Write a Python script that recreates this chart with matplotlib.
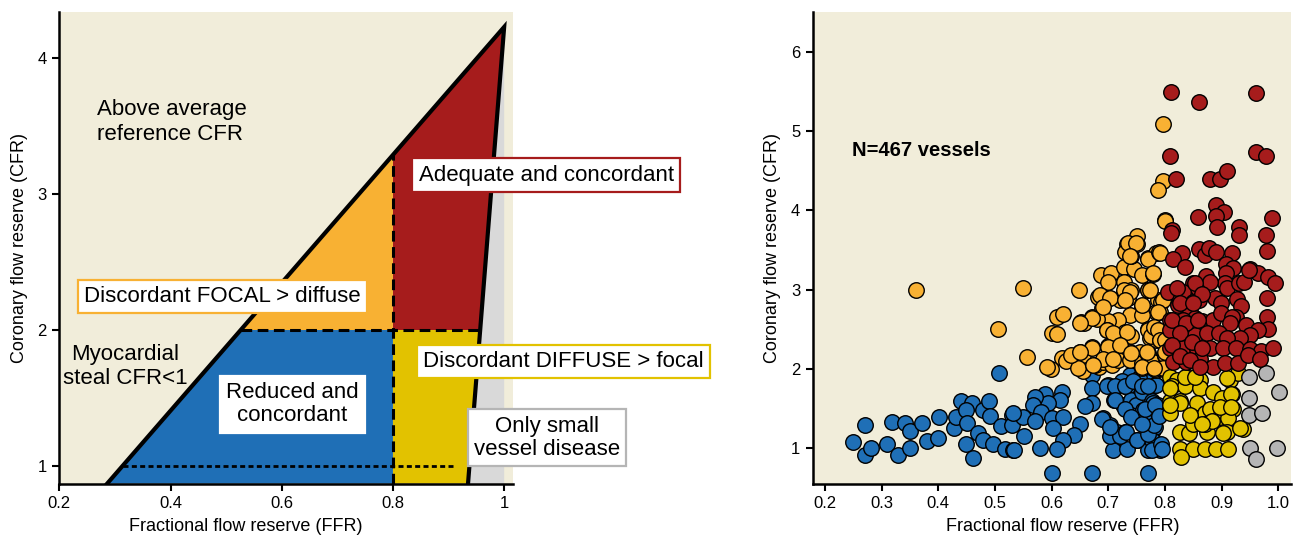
import numpy as np
import matplotlib.pyplot as plt
from matplotlib.patches import Polygon

plt.rcParams['font.family'] = ['Liberation Sans', 'DejaVu Sans']
narrow = ['Liberation Sans Narrow', 'Liberation Sans', 'DejaVu Sans']

# colours
beige = '#f1edda'
c_blue = '#1f6fb6'
c_orange = '#f8b133'
c_red = '#a61c1c'
c_yellow = '#e2c200'
c_grey = '#b5b5b5'
c_grey_zone = '#d9d9d9'

# ---- left panel: schematic corners (FFR, CFR) ----
diag_start = (0.286, 0.87)     # lower end of the reference line
apex = (1.0, 4.23)             # top of reference line
right_foot = (0.935, 0.87)     # lower end of the small vessel line
ffr_cut = 0.8
cfr_cut = 2.0
steal_cfr = 1.0
steal_end = 0.91

# ---- right panel: vessels ----
blue_ffr = [0.271, 0.250, 0.271, 0.281, 0.309, 0.319, 0.342, 0.350, 0.329, 0.350, 0.371, 0.381,
            0.400, 0.401, 0.428, 0.431, 0.441, 0.459, 0.449, 0.450, 0.449, 0.461, 0.471, 0.479,
            0.479, 0.490, 0.491, 0.497, 0.511, 0.518, 0.530, 0.530, 0.532, 0.508,
            0.671, 0.671, 0.671, 0.659, 0.618, 0.615, 0.588, 0.594, 0.571, 0.568, 0.582, 0.550,
            0.532, 0.571, 0.600, 0.621, 0.602, 0.650, 0.639, 0.621, 0.609, 0.579, 0.551, 0.534,
            0.600, 0.672, 0.771, 0.691, 0.703, 0.715, 0.729, 0.718, 0.709, 0.733, 0.750, 0.771,
            0.700, 0.715, 0.733, 0.711, 0.726, 0.741, 0.749, 0.741, 0.761, 0.759, 0.774, 0.779,
            0.738, 0.750, 0.768, 0.782, 0.759, 0.777, 0.788,
            0.785, 0.779, 0.788, 0.782, 0.777, 0.791, 0.777, 0.755, 0.725,
            0.703, 0.721, 0.731, 0.750, 0.771, 0.780, 0.794, 0.795, 0.689, 0.703,
            0.697, 0.712, 0.730, 0.744, 0.759, 0.771, 0.712, 0.730, 0.741, 0.759, 0.765, 0.783, 0.789]
blue_cfr = [1.29, 1.08, 0.92, 1.00, 1.06, 1.33, 1.32, 1.22, 0.91, 1.00, 1.32, 1.09,
            1.13, 1.39, 1.25, 1.39, 1.60, 1.57, 1.48, 1.32, 1.06, 0.88, 1.19, 1.11,
            1.48, 1.60, 1.41, 1.05, 1.28, 0.99, 1.42, 1.29, 0.98, 1.95,
            1.92, 1.76, 1.57, 1.53, 1.71, 1.61, 1.69, 1.57, 1.65, 1.55, 1.46, 1.40,
            1.44, 1.35, 1.38, 1.39, 1.25, 1.30, 1.17, 1.10, 0.99, 1.00, 1.15, 0.98,
            0.69, 0.69, 0.69, 1.38, 1.29, 1.21, 1.21, 1.13, 0.98, 0.99, 1.10, 0.98,
            1.80, 1.79, 1.77, 1.61, 1.54, 1.61, 1.55, 1.42, 1.48, 1.34, 1.34, 1.23,
            1.92, 1.86, 1.84, 1.80, 1.71, 1.59, 1.55,
            1.80, 1.57, 1.44, 1.27, 1.10, 0.98, 0.98, 1.88, 1.85,
            1.15, 1.15, 1.21, 1.10, 1.18, 1.29, 1.06, 0.99, 1.37, 1.27,
            1.78, 1.78, 1.78, 1.85, 1.78, 1.78, 1.61, 1.50, 1.40, 1.31, 1.50, 1.54, 1.41]

orange_ffr = [0.360, 0.505, 0.550, 0.556, 0.648, 0.609, 0.621, 0.601, 0.652, 0.671, 0.689, 0.682,
              0.701, 0.688, 0.705, 0.700, 0.728, 0.728, 0.728, 0.741, 0.721, 0.735, 0.746, 0.740,
              0.734, 0.750, 0.750, 0.729, 0.760, 0.771, 0.785, 0.779, 0.770, 0.788, 0.759, 0.785,
              0.738, 0.718, 0.700, 0.698, 0.729, 0.741, 0.759, 0.770, 0.785, 0.774, 0.785, 0.671,
              0.650, 0.618, 0.700, 0.721, 0.738, 0.756, 0.770,
              0.599, 0.625, 0.610, 0.657, 0.681, 0.656, 0.656, 0.683,
              0.592, 0.647, 0.635, 0.677, 0.691, 0.706, 0.718, 0.738, 0.759, 0.759, 0.770, 0.779, 0.785,
              0.797, 0.796, 0.787, 0.800, 0.735, 0.749, 0.738, 0.771, 0.790,
              0.727, 0.738, 0.771, 0.685, 0.703, 0.729, 0.759, 0.794, 0.691, 0.791, 0.671, 0.697,
              0.709, 0.733, 0.771, 0.776, 0.791, 0.671, 0.700, 0.721, 0.691, 0.709, 0.741, 0.768,
              0.800, 0.674, 0.759, 0.782, 0.797, 0.650, 0.650, 0.800, 0.797, 0.780,
              0.791, 0.779, 0.774, 0.797, 0.788, 0.800, 0.780, 0.788, 0.791, 0.800, 0.800]
orange_cfr = [3.00, 2.50, 3.02, 2.15, 3.00, 2.66, 2.69, 2.45, 2.59, 2.65, 2.77, 2.91,
              2.90, 3.19, 3.21, 3.09, 3.29, 3.10, 2.97, 2.99, 2.87, 2.89, 3.26, 3.42,
              3.58, 3.58, 3.68, 3.48, 3.19, 3.40, 3.46, 3.20, 2.99, 2.87, 2.79, 2.72,
              2.68, 2.62, 2.60, 2.49, 2.47, 2.41, 2.68, 2.51, 2.49, 2.39, 2.37, 2.28,
              2.21, 2.14, 2.29, 2.30, 2.22, 2.22, 2.20,
              2.00, 2.10, 2.44, 2.58, 2.63, 2.18, 1.98, 2.02,
              2.03, 2.01, 2.18, 2.05, 2.09, 2.05, 2.11, 2.11, 2.01, 2.07, 2.18, 2.09, 1.99,
              5.09, 4.37, 4.26, 3.88, 3.59, 3.59, 3.42, 3.38, 3.47,
              3.00, 2.97, 3.00, 2.93, 2.89, 2.87, 2.81, 2.85, 2.78, 2.72, 2.64, 2.49,
              2.45, 2.47, 2.49, 2.41, 2.37, 2.27, 2.28, 2.30, 2.13, 2.13, 2.20, 2.21,
              2.16, 2.05, 2.03, 2.00, 2.00, 2.58, 2.22, 2.18, 2.01, 2.01,
              3.46, 3.21, 3.00, 2.87, 2.72, 3.86, 2.53, 2.49, 2.37, 2.37, 2.22]

red_ffr = [0.810, 0.860, 0.961, 0.809, 0.960, 0.979, 0.819, 0.880, 0.898, 0.910, 0.891, 0.904,
           0.891, 0.859, 0.989, 0.892, 0.930, 0.812,
           0.811, 0.931, 0.979, 0.980, 0.861, 0.871, 0.878, 0.891, 0.918, 0.830, 0.814, 0.835,
           0.908, 0.920, 0.950, 0.965, 0.982, 0.994, 0.908, 0.906, 0.872, 0.879, 0.850, 0.819,
           0.806, 0.850, 0.861, 0.838, 0.824, 0.888, 0.899, 0.909, 0.930, 0.940, 0.949, 0.928,
           0.935, 0.925, 0.980, 0.980, 0.982, 0.844, 0.853, 0.832, 0.809, 0.809, 0.865, 0.885,
           0.899, 0.918, 0.915, 0.944, 0.965, 0.950, 0.932, 0.830, 0.853, 0.874, 0.896, 0.909,
           0.809, 0.832, 0.856, 0.880, 0.903, 0.926, 0.950, 0.970, 0.991,
           0.827, 0.832, 0.850,
           0.815, 0.838, 0.862, 0.885, 0.906, 0.929, 0.947, 0.968,
           0.821, 0.853, 0.865, 0.827, 0.850, 0.812, 0.838, 0.859, 0.827, 0.812, 0.847, 0.827,
           0.844, 0.865, 0.862]
red_cfr = [5.49, 5.36, 5.48, 4.69, 4.73, 4.69, 4.40, 4.40, 4.39, 4.50, 4.07, 3.98,
           3.93, 3.91, 3.90, 3.79, 3.79, 3.75,
           3.72, 3.69, 3.69, 3.49, 3.51, 3.44, 3.52, 3.48, 3.46, 3.46, 3.38, 3.29,
           3.32, 3.27, 3.26, 3.21, 3.16, 3.08, 3.21, 3.08, 3.17, 3.09, 3.08, 3.00,
           2.97, 2.97, 2.87, 2.89, 2.81, 2.89, 2.83, 3.02, 3.08, 3.10, 3.25, 2.88,
           2.79, 2.66, 2.89, 2.66, 2.50, 2.72, 2.64, 2.62, 2.62, 2.49, 2.60, 2.62,
           2.70, 2.66, 2.58, 2.55, 2.49, 2.43, 2.39, 2.43, 2.43, 2.45, 2.45, 2.39,
           2.27, 2.27, 2.25, 2.26, 2.27, 2.26, 2.25, 2.23, 2.27,
           2.87, 2.97, 2.85,
           2.09, 2.09, 2.13, 2.03, 2.07, 2.07, 2.18, 2.12,
           3.02, 3.08, 2.95, 2.83, 2.83, 2.62, 2.58, 2.62, 2.45, 2.30, 2.34, 2.16,
           2.11, 2.26, 2.03]

yellow_ffr = [0.809, 0.821, 0.841, 0.862, 0.812, 0.835, 0.862, 0.885, 0.900, 0.918, 0.915, 0.929,
              0.921, 0.809, 0.827, 0.809, 0.856, 0.850, 0.871, 0.880, 0.897, 0.912, 0.897, 0.938,
              0.827, 0.843, 0.874, 0.909, 0.871, 0.850, 0.827, 0.849, 0.871, 0.890, 0.911, 0.829,
              0.836, 0.854, 0.910, 0.916, 0.916, 0.933, 0.903, 0.883, 0.845, 0.865, 0.826, 0.809, 0.809]
yellow_cfr = [1.90, 1.86, 1.90, 1.86, 1.78, 1.78, 1.76, 1.71, 1.63, 1.69, 1.86, 1.95,
              1.50, 1.59, 1.59, 1.44, 1.57, 1.40, 1.44, 1.49, 1.40, 1.38, 1.52, 1.24,
              1.20, 1.19, 1.20, 1.20, 1.31, 1.31, 0.99, 0.99, 0.99, 0.99, 0.99, 0.89,
              1.90, 1.90, 1.88, 1.69, 1.52, 1.25, 1.19, 1.34, 1.42, 1.31, 1.57, 1.55, 1.76]

grey_ffr = [0.949, 0.979, 1.002, 0.949, 0.948, 0.971, 0.950, 0.961, 0.998]
grey_cfr = [1.90, 1.95, 1.71, 1.63, 1.42, 1.45, 1.00, 0.86, 1.00]

fig = plt.figure(figsize=(12.93, 5.38), dpi=100)

# ================= left panel =================
ax1 = fig.add_axes([0.0459, 0.1011, 0.3509, 0.8766])
ax1.set_facecolor(beige)
ax1.set_xlim(0.2, 1.016)
ax1.set_ylim(0.87, 4.34)


def diag_x(y):
    return diag_start[0] + (y - diag_start[1]) * (apex[0] - diag_start[0]) / (apex[1] - diag_start[1])


def diag_y(x):
    return diag_start[1] + (x - diag_start[0]) * (apex[1] - diag_start[1]) / (apex[0] - diag_start[0])


def right_x(y):
    return right_foot[0] + (y - right_foot[1]) * (apex[0] - right_foot[0]) / (apex[1] - right_foot[1])


y0 = diag_start[1]
top_cut = diag_y(ffr_cut)
xd2 = diag_x(cfr_cut)
xr2 = right_x(cfr_cut)

ax1.add_patch(Polygon([right_foot, apex, (1.0, y0)], closed=True, fc=c_grey_zone, ec='none'))
ax1.add_patch(Polygon([(ffr_cut, cfr_cut), (ffr_cut, top_cut), apex, (xr2, cfr_cut)],
                      closed=True, fc=c_red, ec='none'))
ax1.add_patch(Polygon([(xd2, cfr_cut), (ffr_cut, top_cut), (ffr_cut, cfr_cut)],
                      closed=True, fc=c_orange, ec='none'))
ax1.add_patch(Polygon([diag_start, (xd2, cfr_cut), (ffr_cut, cfr_cut), (ffr_cut, y0)],
                      closed=True, fc=c_blue, ec='none'))
ax1.add_patch(Polygon([(ffr_cut, y0), (ffr_cut, cfr_cut), (xr2, cfr_cut), right_foot],
                      closed=True, fc=c_yellow, ec='none'))

ax1.plot([diag_start[0], apex[0], right_foot[0]], [diag_start[1], apex[1], right_foot[1]],
         color='black', lw=3, solid_joinstyle='miter', zorder=4)
ax1.plot([ffr_cut, ffr_cut], [y0, top_cut], color='black', lw=2.2, ls=(0, (3.5, 1.8)), zorder=3)
ax1.plot([xd2, xr2], [cfr_cut, cfr_cut], color='black', lw=2.2, ls=(0, (3.5, 1.8)), zorder=3)
ax1.plot([diag_x(steal_cfr), steal_end], [steal_cfr, steal_cfr], color='black', lw=2.0,
         ls=(0, (1.8, 1.2)), zorder=3)

box_kw = dict(boxstyle='square,pad=0.28', fc='white', lw=1.6)
ax1.text(0.268, 3.53, 'Above average\nreference CFR', fontsize=16, ha='left', va='center',
         linespacing=1.2)
ax1.text(0.318, 1.73, 'Myocardial\nsteal CFR<1', fontsize=16, ha='center', va='center',
         linespacing=1.2)
ax1.text(1.0757, 3.14, 'Adequate and concordant', fontsize=16, ha='center', va='center',
         bbox=dict(ec=c_red, **box_kw), zorder=6)
ax1.text(0.4927, 2.248, 'Discordant FOCAL > diffuse', fontsize=16, ha='center', va='center',
         bbox=dict(ec=c_orange, **box_kw), zorder=6)
ax1.text(0.619, 1.454, 'Reduced and\nconcordant', fontsize=16, ha='center', va='center',
         linespacing=1.15, bbox=dict(ec='white', **box_kw), zorder=6)
ax1.text(1.106, 1.77, 'Discordant DIFFUSE > focal', fontsize=16, ha='center', va='center',
         bbox=dict(ec=c_yellow, **box_kw), zorder=6)
ax1.text(1.077, 1.207, 'Only small\nvessel disease', fontsize=16, ha='center', va='center',
         linespacing=1.15, bbox=dict(ec=c_grey, **box_kw), zorder=6)

ax1.set_xticks([0.2, 0.4, 0.6, 0.8, 1.0])
ax1.set_xticklabels(['0.2', '0.4', '0.6', '0.8', '1'])
ax1.set_yticks([1, 2, 3, 4])
ax1.set_xlabel('Fractional flow reserve (FFR)', fontsize=13)
ax1.set_ylabel('Coronary flow reserve (CFR)', fontsize=13)
ax1.xaxis.set_label_coords(0.4115, -0.072)
ax1.yaxis.set_label_coords(-0.068, 0.5)

# ================= right panel =================
ax2 = fig.add_axes([0.6285, 0.1004, 0.3699, 0.8773])
ax2.set_facecolor(beige)
ax2.set_xlim(0.1783, 1.0225)
ax2.set_ylim(0.55, 6.5)

dot_kw = dict(s=125, edgecolors='black', linewidths=1.0, zorder=3)
ax2.scatter(blue_ffr, blue_cfr, c=c_blue, **dot_kw)
ax2.scatter(orange_ffr, orange_cfr, c=c_orange, **dot_kw)
ax2.scatter(yellow_ffr, yellow_cfr, c=c_yellow, **dot_kw)
ax2.scatter(grey_ffr, grey_cfr, c=c_grey, **dot_kw)
ax2.scatter(red_ffr, red_cfr, c=c_red, **dot_kw)

ax2.text(0.2477, 4.75, 'N=467 vessels', fontsize=14.5, fontweight='bold', family=narrow,
         ha='left', va='center')

ax2.set_xticks(np.arange(0.2, 1.01, 0.1))
ax2.set_xticklabels(['0.2', '0.3', '0.4', '0.5', '0.6', '0.7', '0.8', '0.9', '1.0'])
ax2.set_yticks([1, 2, 3, 4, 5, 6])
ax2.set_xlabel('Fractional flow reserve (FFR)', fontsize=13)
ax2.set_ylabel('Coronary flow reserve (CFR)', fontsize=13)
ax2.xaxis.set_label_coords(0.523, -0.072)
ax2.yaxis.set_label_coords(-0.067, 0.5)

for ax in (ax1, ax2):
    for side in ('top', 'right'):
        ax.spines[side].set_visible(False)
    for side in ('left', 'bottom'):
        ax.spines[side].set_linewidth(1.8)
    ax.tick_params(direction='out', length=5, width=1.5, pad=4, labelsize=12)
    for lbl in ax.get_xticklabels() + ax.get_yticklabels():
        lbl.set_family(narrow)

fig.savefig('out.png', dpi=100)
